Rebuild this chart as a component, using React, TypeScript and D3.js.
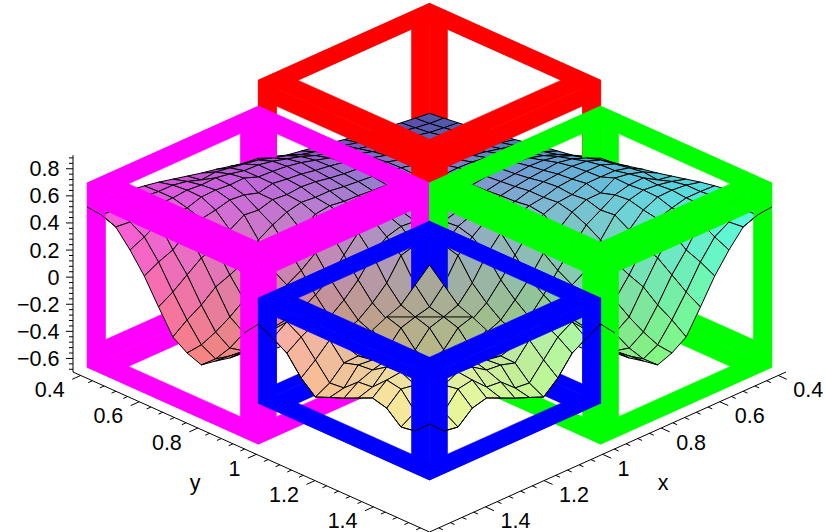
import React from 'react'
import * as d3 from 'd3'

// surface heights, one table per box (row = x step, column = y step)
// back quadrant: x steps 0..12, y steps 0..12
const zBack = [
  [.075,.087,.10,.115,.13,.147,.165,.185,.205,.222,.24,.275,.311],
  [.087,.095,.11,.13,.15,.17,.19,.215,.24,.265,.29,.33,.36],
  [.10,.11,.123,.145,.165,.19,.215,.24,.27,.30,.33,.37,.40],
  [.115,.13,.145,.158,.18,.205,.235,.265,.295,.325,.36,.39,.42],
  [.13,.15,.165,.18,.20,.225,.255,.285,.315,.345,.375,.395,.41],
  [.147,.17,.19,.205,.225,.24,.27,.30,.33,.355,.375,.385,.40],
  [.165,.19,.215,.235,.255,.27,.28,.31,.335,.355,.365,.375,.385],
  [.185,.215,.24,.265,.285,.30,.31,.31,.33,.345,.35,.355,.365],
  [.205,.24,.27,.295,.315,.33,.335,.33,.33,.335,.335,.335,.344],
  [.222,.265,.30,.325,.345,.355,.355,.345,.335,.33,.32,.30,.32],
  [.24,.29,.33,.36,.375,.375,.365,.35,.335,.32,.30,.27,.28],
  [.275,.33,.37,.39,.395,.385,.375,.355,.335,.30,.27,.24,.19],
  [.311,.36,.40,.42,.41,.40,.385,.365,.344,.32,.28,.19,.09],
]
// left quadrant: x steps 12..24, y steps 0..12 (the right one is its mirror image)
const zSide = [
  [.311,.36,.40,.42,.41,.40,.385,.365,.344,.32,.28,.19,.09],
  [.322,.392,.43,.44,.43,.42,.40,.37,.355,.33,.25,.16,-.011],
  [.345,.41,.45,.45,.44,.43,.40,.385,.35,.28,.163,.004,-.111],
  [.37,.428,.455,.456,.455,.42,.41,.37,.29,.163,.026,-.096,-.17],
  [.39,.445,.478,.495,.432,.43,.385,.30,.178,.038,-.074,-.175,-.22],
  [.415,.434,.496,.491,.465,.40,.338,.223,.097,-.037,-.154,-.22,-.32],
  [.44,.47,.491,.501,.475,.411,.274,.10,.037,-.10,-.15,-.22,-.28],
  [.465,.49,.50,.497,.448,.348,.159,.073,-.064,-.12,-.13,-.16,-.22],
  [.485,.49,.49,.463,.429,.27,.11,-.027,-.157,-.14,-.10,-.10,-.17],
  [.50,.50,.49,.459,.38,.236,.069,-.105,-.176,-.166,-.12,-.06,-.01],
  [.51,.50,.49,.454,.295,.158,-.017,-.169,-.24,-.214,-.123,-.06,-.02],
  [.515,.50,.454,.391,.253,.079,-.08,-.217,-.273,-.204,-.127,-.073,-.018],
  [.518,.506,.465,.342,.197,.016,-.158,-.229,-.27,-.194,-.124,-.04,.014],
]
// front quadrant: x steps 12..24, y steps 12..24
const zFront = [
  [.09,-.011,-.111,-.152,-.201,-.301,-.254,-.207,-.16,-.076,.045,.13,.221],
  [-.011,-.126,-.152,-.186,-.301,-.343,-.244,-.049,-.002,.082,.218,.236,.164],
  [-.111,-.152,-.186,-.301,-.365,-.34,-.234,-.113,.045,.203,.228,.172,.10],
  [-.152,-.186,-.301,-.365,-.355,-.293,-.223,-.139,-.018,.066,.15,.05,-.036],
  [-.201,-.301,-.365,-.355,-.322,-.275,-.213,-.136,-.03,.032,.028,-.073,-.129],
  [-.301,-.343,-.34,-.293,-.275,-.242,-.203,-.133,-.042,.05,.06,-.062,-.085],
  [-.254,-.244,-.234,-.223,-.213,-.203,-.163,-.116,-.024,.097,.07,.029,-.043],
  [-.207,-.049,-.113,-.139,-.136,-.133,-.116,-.083,.008,.085,.14,.039,.005],
  [-.16,-.002,.045,-.018,-.03,-.042,-.024,.008,.011,.081,.15,.138,.053],
  [-.076,.082,.203,.066,.032,.05,.097,.085,.081,.091,.101,.119,.025],
  [.045,.218,.228,.15,.028,.06,.07,.14,.15,.101,.097,-.003,-.067],
  [.13,.236,.172,.05,-.073,-.062,.029,.039,.138,.119,-.003,.073,-.05],
  [.221,.164,.10,-.036,-.129,-.085,-.043,.005,.053,.025,-.067,-.05,.05],
]

const zTicks = [-0.6, -0.4, -0.2, 0, 0.2, 0.4, 0.6, 0.8]
const xyTicks = [0.4, 0.6, 0.8, 1, 1.2, 1.4]
const boxColors = ['#ff0000', '#ff00ff', '#00ff00', '#0000ff']
const boxZ = [[-0.36, 0.887], [-0.665, 0.695], [-0.665, 0.695], [-0.363, 0.412]]
const boxX = [[0, 12], [12, 24], [0, 12], [12, 24]]
const boxY = [[0, 12], [0, 12], [12, 24], [12, 24]]

// one grid step is 0.0487 in x and y, step 0 sits at 0.398
const stepOf = d3.scaleLinear().domain([0.398, 1.5668]).range([0, 24])
const sxOf = d3.scaleLinear().domain([-25, 25]).range([73, 786])
const syOf = d3.scaleLinear().domain([-25, 25]).range([212, 532])
const zOf = d3.scaleLinear().domain([-0.7, 0.9]).range([0, -216.8])
const redOf = d3.scaleLinear().domain([0, 24]).range([78, 250])
const greenOf = d3.scaleLinear().domain([0, 24]).range([78, 250])
const blueOf = d3.scaleLinear().domain([-0.3, 0.5]).range([125, 222]).clamp(true)
const blueFront = d3.scaleLinear().domain([-0.3, 0.3]).range([135, 170]).clamp(true)

const P = (a: number, b: number, z: number): [number, number] => [
  sxOf(b - a),
  syOf(a + b - 24) + zOf(z),
]
const poly = d3.line().curve(d3.curveLinearClosed)
const open = d3.line()

const pieces = [
  { a0: 0, b0: 0, z: (a: number, b: number) => zBack[a][b], blue: blueOf },
  { a0: 12, b0: 0, z: (a: number, b: number) => zSide[a - 12][b], blue: blueOf },
  { a0: 0, b0: 12, z: (a: number, b: number) => zSide[b - 12][a], blue: blueOf },
  { a0: 12, b0: 12, z: (a: number, b: number) => zFront[a - 12][b - 12], blue: blueFront },
]

function Cells({ piece }: { piece: (typeof pieces)[number] }) {
  const cells: { k: string; s: number; d: string; fill: string }[] = []
  d3.range(12).forEach((i) => {
    d3.range(12).forEach((j) => {
      const a = piece.a0 + i
      const b = piece.b0 + j
      const { z } = piece
      const mean = (z(a, b) + z(a + 1, b) + z(a, b + 1) + z(a + 1, b + 1)) / 4
      cells.push({
        k: a + '-' + b,
        s: a + b,
        d: poly([P(a, b, z(a, b)), P(a + 1, b, z(a + 1, b)), P(a + 1, b + 1, z(a + 1, b + 1)), P(a, b + 1, z(a, b + 1))]) as string,
        fill: d3.rgb(redOf(a + 0.5), greenOf(b + 0.5), piece.blue(mean)).formatHex(),
      })
    })
  })
  cells.sort((p, q) => p.s - q.s)
  return (
    <g>
      {cells.map((c) => (
        <path key={c.k} d={c.d} fill={c.fill} stroke="#000" strokeWidth={1} strokeLinejoin="round" />
      ))}
    </g>
  )
}

// a square plate with a square window, given by its three ranges; one range is flat
function plate(ra: number[], rb: number[], rz: number[]) {
  const f = rz[0] === rz[1] ? 0.115 : 0.105
  const shrink = (r: number[]) => {
    const w = (r[1] - r[0]) * f
    return r[0] === r[1] ? r : [r[0] + w, r[1] - w]
  }
  const loop = (A: number[], B: number[], Z: number[]) => {
    let pts: [number, number][]
    if (A[0] === A[1]) pts = [P(A[0], B[0], Z[0]), P(A[0], B[1], Z[0]), P(A[0], B[1], Z[1]), P(A[0], B[0], Z[1])]
    else if (B[0] === B[1]) pts = [P(A[0], B[0], Z[0]), P(A[1], B[0], Z[0]), P(A[1], B[0], Z[1]), P(A[0], B[0], Z[1])]
    else pts = [P(A[0], B[0], Z[0]), P(A[1], B[0], Z[0]), P(A[1], B[1], Z[0]), P(A[0], B[1], Z[0])]
    return poly(pts) as string
  }
  return loop(ra, rb, rz) + loop(shrink(ra), shrink(rb), shrink(rz))
}

function Plates({ i, front }: { i: number; front: boolean }) {
  const [a0, a1] = boxX[i]
  const [b0, b1] = boxY[i]
  const [z0, z1] = boxZ[i]
  const faces = front
    ? [plate([a1, a1], [b0, b1], [z0, z1]), plate([a0, a1], [b1, b1], [z0, z1]), plate([a0, a1], [b0, b1], [z1, z1])]
    : [plate([a0, a1], [b0, b1], [z0, z0]), plate([a0, a0], [b0, b1], [z0, z1]), plate([a0, a1], [b0, b0], [z0, z1])]
  return (
    <g>
      {faces.map((d, n) => (
        <path key={n} d={d} fill={boxColors[i]} fillRule="evenodd" stroke={boxColors[i]} strokeWidth={0.6} strokeLinejoin="miter" />
      ))}
    </g>
  )
}

type Pt = [number, number, number]
// parts of the surface's outline that sit on top of the frames in the picture
const overlay: Pt[][] = [
  d3.range(0, 13).map((j) => [24, 12 + j, zFront[12][j]] as Pt),
  d3.range(0, 13).map((j) => [12 + j, 24, zFront[12][j]] as Pt),
  d3.range(0, 3).map((j) => [24, j, zSide[12][j]] as Pt),
  d3.range(0, 3).map((j) => [j, 24, zSide[12][j]] as Pt),
  [21, 20].map((a) => [a, 8, zSide[a - 12][8]] as Pt),
  [21, 20].map((a) => [8, a, zSide[a - 12][8]] as Pt),
  d3.range(15, 11, -1).map((a) => [a, 27 - a, zFront[a - 12][27 - a - 12]] as Pt),
]

const font = '"Liberation Sans", Arial, sans-serif'

function Axes() {
  const zMinor = d3.range(-0.68, 0.89, 0.04)
  const xyMinor = d3.range(0.4, 1.57, 0.04)
  const zx = 73
  const zy = (v: number) => 372 + zOf(v)
  const seg = (p: [number, number], q: [number, number]) => open([p, q]) as string
  return (
    <g stroke="#000" strokeWidth={1} fill="none">
      <path d={seg([zx, zy(0.9)], [zx, zy(-0.7)])} />
      <path d={seg(P(24.5, -0.5, -0.7), P(24.5, 24.5, -0.7))} />
      <path d={seg(P(-0.5, 24.5, -0.7), P(24.5, 24.5, -0.7))} />
      {zMinor.map((v, n) => {
        const major = n % 5 === 2
        return <path key={n} d={seg([zx - (major ? 7 : 4), zy(v)], [zx, zy(v)])} />
      })}
      {xyMinor.map((v, n) => {
        const k = n % 5 === 0 ? 0.6 : 0.3
        const s = stepOf(v)
        return (
          <g key={n}>
            <path d={seg(P(24.5, s, -0.7), P(24.5 + k, s, -0.7))} />
            <path d={seg(P(s, 24.5, -0.7), P(s, 24.5 + k, -0.7))} />
          </g>
        )
      })}
      <g fill="#000" stroke="none" fontFamily={font} fontSize={21.5}>
        {zTicks.map((v) => (
          <text key={v} x={59.5} y={zy(v) + 7.5} textAnchor="end">
            {v < 0 ? '\u2212' + Math.abs(v) : String(v)}
          </text>
        ))}
        {xyTicks.map((v) => {
          const p = P(24.5, stepOf(v), -0.7)
          const q = P(stepOf(v), 24.5, -0.7)
          return (
            <g key={v}>
              <text x={p[0] - 16} y={p[1] + 21.5} textAnchor="end">{String(v)}</text>
              <text x={q[0] + 15} y={q[1] + 21.5} textAnchor="start">{String(v)}</text>
            </g>
          )
        })}
        <text x={195} y={490} textAnchor="middle">y</text>
        <text x={663} y={490} textAnchor="middle">x</text>
      </g>
    </g>
  )
}

export default function App() {
  return (
    <svg width={825} height={532} style={{ position: 'absolute', left: 0, top: 0, background: '#fff' }}>
      <Axes />
      {pieces.map((piece, i) => (
        <g key={i}>
          <Plates i={i} front={false} />
          <Cells piece={piece} />
          <Plates i={i} front={true} />
        </g>
      ))}
      <g fill="none" stroke="#000" strokeWidth={1}>
        {overlay.map((line, n) => (
          <path key={n} d={open(line.map(([a, b, z]) => P(a, b, z))) as string} />
        ))}
      </g>
    </svg>
  )
}
